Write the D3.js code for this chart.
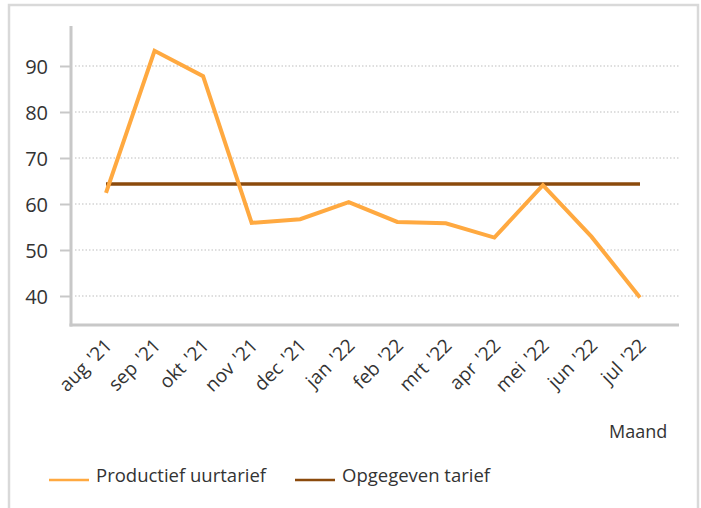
<!DOCTYPE html>
<html>
<head>
<meta charset="utf-8">
<script src="https://cdn.jsdelivr.net/npm/d3@7"></script>
<style>
  body { margin: 0; background: #fff; font-family: "Open Sans", sans-serif; }
  #graph { width: 701px; height: 508px; }
</style>
</head>
<body>
<div id="graph"></div>
<script>
/* chart data */
const months = ["aug '21", "sep '21", "okt '21", "nov '21", "dec '21", "jan '22",
    "feb '22", "mrt '22", "apr '22", "mei '22", "jun '22", "jul '22"];
const productief = [62.4, 93.3, 87.8, 55.9, 56.7, 60.4, 56.1, 55.8, 52.7, 64.1, 52.9, 39.7];
const opgegeven = [64.35, 64.35, 64.35, 64.35, 64.35, 64.35, 64.35, 64.35, 64.35, 64.35, 64.35, 64.35];
const yTicks = [40, 50, 60, 70, 80, 90];
const seriesNames = ["Productief uurtarief", "Opgegeven tarief"];
const xTitle = "Maand";

window.addEventListener("DOMContentLoaded", main)

function main() {
    const W = 701, H = 508;
    const orange = "#ffa940";
    const brown = "#8b4a0c";
    const axisColor = "#c8c8c8";
    const textColor = "#333";

    const svg = d3.select("#graph").append("svg").attr("width", W).attr("height", H)

    /* outer frame */
    svg.append("rect")
        .attr("x", 9).attr("y", 5)
        .attr("width", 689).attr("height", 520)
        .attr("fill", "none")
        .attr("stroke", "#d9d9d9")
        .attr("stroke-width", 2.5)

    /* scales */
    const xScale = d3.scalePoint().domain(months).range([106, 640]);
    const yScale = d3.scaleLinear().domain([40, 90]).range([296, 66]);
    const plotLeft = 71, plotRight = 679, plotTop = 26, plotBottom = 325;

    /* grid */
    svg.append("g").selectAll("line")
        .data(yTicks)
        .enter().append("line")
        .attr("x1", plotLeft + 4).attr("x2", plotRight)
        .attr("y1", d => yScale(d)).attr("y2", d => yScale(d))
        .attr("stroke", "#d4d4d4")
        .attr("stroke-width", 1.5)
        .attr("stroke-dasharray", "1.5,2")

    /* y axis */
    const yAxis = d3.axisLeft(yScale).tickValues(yTicks).tickSize(11).tickPadding(12);
    const gy = svg.append("g")
        .attr("transform", "translate(" + plotLeft + ",0)")
        .call(yAxis);
    gy.select(".domain").remove();
    gy.selectAll(".tick line").attr("stroke", axisColor).attr("stroke-width", 2);
    gy.selectAll("text")
        .attr("fill", textColor)
        .style("font-family", "Open Sans")
        .style("font-size", "20px")
        .attr("dy", "0.35em")
    svg.append("line")
        .attr("x1", plotLeft).attr("x2", plotLeft)
        .attr("y1", plotTop).attr("y2", plotBottom + 1.5)
        .attr("stroke", axisColor).attr("stroke-width", 3)

    /* x axis */
    const xAxis = d3.axisBottom(xScale).tickSize(0).tickPadding(0);
    const gx = svg.append("g")
        .attr("transform", "translate(0," + plotBottom + ")")
        .call(xAxis);
    gx.select(".domain").remove();
    gx.selectAll("text")
        .attr("fill", textColor)
        .style("font-family", "Open Sans")
        .style("font-size", "19px")
        .style("text-anchor", "end")
        .attr("transform", "translate(2,17) rotate(-45)")
        .attr("dy", "0.35em")
        .each(function () {
            /* slightly wider gap before the apostrophe */
            const t = d3.select(this).text();
            d3.select(this).text(t.replace(" '", " \u200a'"));
        })
    svg.append("line")
        .attr("x1", plotLeft - 1.5).attr("x2", plotRight)
        .attr("y1", plotBottom).attr("y2", plotBottom)
        .attr("stroke", axisColor).attr("stroke-width", 3)

    svg.append("text")
        .attr("x", 609).attr("y", 432)
        .attr("dy", "0.35em")
        .attr("fill", textColor)
        .style("font-size", "18px")
        .text(xTitle)

    /* lines */
    const line = d3.line()
        .x((d, i) => xScale(months[i]))
        .y(d => yScale(d));

    svg.append("path")
        .datum(opgegeven)
        .attr("d", line)
        .attr("fill", "none")
        .attr("stroke", brown)
        .attr("stroke-width", 3.5)

    svg.append("path")
        .datum(productief)
        .attr("d", line)
        .attr("fill", "none")
        .attr("stroke", orange)
        .attr("stroke-width", 4)
        .attr("stroke-linejoin", "miter")

    /* legend */
    const legendData = [
        { text: seriesNames[0], color: orange, x: 49, w: 40 },
        { text: seriesNames[1], color: brown, x: 295, w: 40 },
    ]
    const legend = svg.append("g").attr("id", "legend")
        .selectAll("g")
        .data(legendData)
        .enter().append("g")
        .attr("transform", d => "translate(" + d.x + ",476)")

    legend.append("line")
        .attr("x1", 0).attr("x2", d => d.w)
        .attr("y1", 4).attr("y2", 4)
        .attr("stroke", d => d.color)
        .attr("stroke-width", 2.5)

    legend.append("text")
        .attr("x", d => d.w + 7)
        .attr("y", 0)
        .attr("dy", "0.35em")
        .attr("fill", textColor)
        .style("font-size", "18.5px")
        .text(d => d.text)
}
</script>
</body>
</html>
